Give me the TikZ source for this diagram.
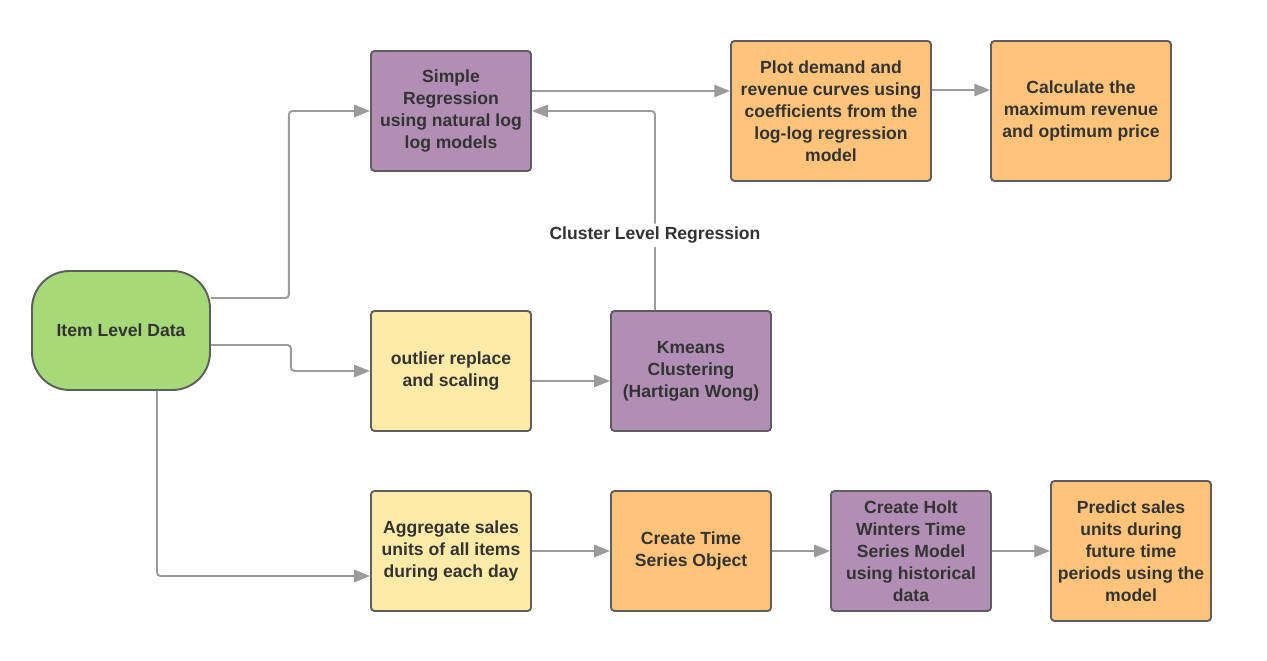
\documentclass[tikz,border=0pt]{standalone}
\usepackage{fontspec}
\setmainfont{Liberation Sans}
\usepackage{tikz}
\usetikzlibrary{arrows.meta}
\definecolor{boxgreen}{HTML}{A6DA78}
\definecolor{boxpurple}{HTML}{B18FB4}
\definecolor{boxorange}{HTML}{FFC47A}
\definecolor{boxyellow}{HTML}{FFEBA8}
\definecolor{boxline}{HTML}{5E5E5E}
\definecolor{linkgray}{HTML}{9B9B9B}
\definecolor{textgray}{HTML}{333333}

\begin{document}
\begin{tikzpicture}[x=0.02cm,y=-0.02cm,
    box/.style={draw=boxline,line width=1.1pt,rounded corners=2pt,align=center,
      font=\bfseries\fontsize{10}{12.5}\selectfont,text=textgray,inner sep=0pt},
    smallbox/.style={box,minimum width=3.2cm,minimum height=2.4cm},
    link/.style={draw=linkgray,line width=1.1pt,rounded corners=2pt,
      -{Triangle[length=9pt,width=7pt]}}]
    \useasboundingbox (0,0) rectangle (1267,661);
    % Source
    \node[box,fill=boxgreen,minimum width=3.56cm,minimum height=2.38cm,rounded corners=0.75cm] (item) at (121,330.5) {Item Level Data};
    % Top row
    \node[smallbox,fill=boxpurple] (simpreg) at (451,111) {Simple\\Regression\\using natural log\\log models};
    \node[box,fill=boxorange,minimum width=4cm,minimum height=2.8cm] (plotcurves) at (831,111) {Plot demand and\\revenue curves using\\coefficients from the\\log-log regression\\model};
    \node[box,fill=boxorange,minimum width=3.6cm,minimum height=2.8cm] (calcmax) at (1081,111) {Calculate the\\maximum revenue\\and optimum price};
    % Middle row
    \node[smallbox,fill=boxyellow] (outlier) at (451,371) {outlier replace\\and scaling};
    \node[smallbox,fill=boxpurple] (kmeans) at (691,371) {Kmeans\\Clustering\\(Hartigan Wong)};
    % Bottom row
    \node[smallbox,fill=boxyellow] (aggsales) at (451,551) {Aggregate sales\\units of all items\\during each day};
    \node[smallbox,fill=boxorange] (tsobject) at (691,551) {Create Time\\Series Object};
    \node[smallbox,fill=boxpurple] (holtwin) at (911,551) {Create Holt\\Winters Time\\Series Model\\using historical\\data};
    \node[box,fill=boxorange,minimum width=3.2cm,minimum height=2.8cm] (predict) at (1131,551) {Predict sales\\units during\\future time\\periods using the\\model};
    % Links from the source
    \draw[link] ([yshift=0.65cm]item.east) -- ++(78,0) |- (simpreg.west);
    \draw[link] ([yshift=-0.29cm]item.east) -- ++(80,0) |- (outlier.west);
    \draw[link] ([xshift=0.72cm]item.south) |- ([yshift=-0.5cm]aggsales.west);
    % Links of the top row
    \draw[link] ([yshift=0.4cm]simpreg.east) -- ([yshift=0.4cm]plotcurves.west);
    \draw[link] ([yshift=0.42cm]plotcurves.east) -- ([yshift=0.42cm]calcmax.west);
    % Links of the middle row
    \draw[link] ([yshift=-0.2cm]outlier.east) -- ([yshift=-0.2cm]kmeans.west);
    \draw[link] ([xshift=-0.72cm]kmeans.north) |- node[pos=0.1875,fill=white,text=textgray,inner sep=2pt,
      font=\bfseries\fontsize{10}{12.5}\selectfont] (clusterlbl) {Cluster Level Regression} (simpreg.east);
    % Links of the bottom row
    \draw[link] (aggsales) -- (tsobject);
    \draw[link] (tsobject) -- (holtwin);
    \draw[link] (holtwin) -- (predict);
\end{tikzpicture}
\end{document}
